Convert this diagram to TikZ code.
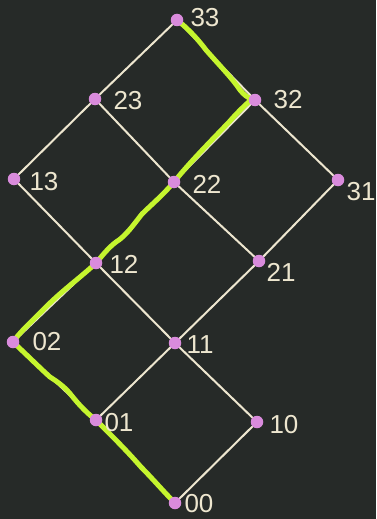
\documentclass[tikz,border=0pt]{standalone}
\usepackage{fontspec}
\setmainfont{Liberation Sans}
\definecolor{bgc}{HTML}{262A28}
\definecolor{edgec}{HTML}{EDE6CF}
\definecolor{dotc}{HTML}{D98BDC}
\definecolor{hlc}{HTML}{C5F52E}
\begin{document}
\begin{tikzpicture}[x=1pt,y=-1pt,
  vtx/.style={circle,fill=dotc,inner sep=0pt,minimum size=12.5pt},
  lbl/.style={text=edgec,font=\fontsize{26}{26}\selectfont,inner sep=0pt,anchor=center},
  edge/.style={draw=edgec,line width=2pt},
  hl/.style={draw=hlc,line width=5pt,line cap=round,line join=round}]
\fill[bgc] (0,0) rectangle (376,519);
\useasboundingbox (0,0) rectangle (376,519);
% vertices
\coordinate (v33) at (177,20);
\coordinate (v23) at (95,99);
\coordinate (v32) at (255,100);
\coordinate (v13) at (14,179);
\coordinate (v22) at (174,182);
\coordinate (v31) at (338,180);
\coordinate (v12) at (96,263);
\coordinate (v21) at (259,261);
\coordinate (v02) at (13,342);
\coordinate (v11) at (175,343);
\coordinate (v01) at (96,420);
\coordinate (v10) at (257,422);
\coordinate (v00) at (175,503);
% edges
\foreach \a/\b in {33/23,33/32,23/13,23/22,32/22,32/31,13/12,22/12,22/21,31/21,12/02,12/11,21/11,02/01,11/01,11/10,01/00,10/00}
  \draw[edge] (v\a) -- (v\b);
% highlighted path
\draw[hl] (v33) .. controls (190,30) and (200,42) .. (206,50)
  .. controls (220,66) and (232,78) .. (240,90)
  .. controls (244,95) and (248,98) .. (252,99)
  .. controls (244,106) and (236,114) .. (230,121)
  .. controls (210,142) and (190,162) .. (174,182)
  .. controls (162,196) and (150,206) .. (142,214)
  .. controls (134,224) and (126,236) .. (116,242)
  .. controls (108,248) and (102,256) .. (96,263)
  .. controls (80,278) and (60,292) .. (42,311)
  .. controls (30,323) and (20,332) .. (13,342)
  .. controls (28,356) and (40,368) .. (50,377)
  .. controls (58,382) and (66,388) .. (72,396)
  .. controls (80,406) and (88,414) .. (96,420)
  .. controls (112,436) and (128,452) .. (141,467)
  .. controls (152,478) and (164,492) .. (175,503);
% vertex dots
\foreach \v in {33,23,32,13,22,31,12,21,02,11,01,10,00}
  \node[vtx] (n\v) at (v\v) {};
% labels
\node[lbl] (l33) at (205,18) {33};
\node[lbl] (l23) at (128,101) {23};
\node[lbl] (l32) at (288,100) {32};
\node[lbl] (l13) at (44,182) {13};
\node[lbl] (l22) at (207,184) {22};
\node[lbl] (l31) at (361,192) {31};
\node[lbl] (l12) at (124,264) {12};
\node[lbl] (l21) at (281,272) {21};
\node[lbl] (l02) at (47,342) {02};
\node[lbl] (l11) at (200,345) {11};
\node[lbl] (l01) at (119,423) {01};
\node[lbl] (l10) at (284,425) {10};
\node[lbl] (l00) at (199,504) {00};
\end{tikzpicture}
\end{document}
